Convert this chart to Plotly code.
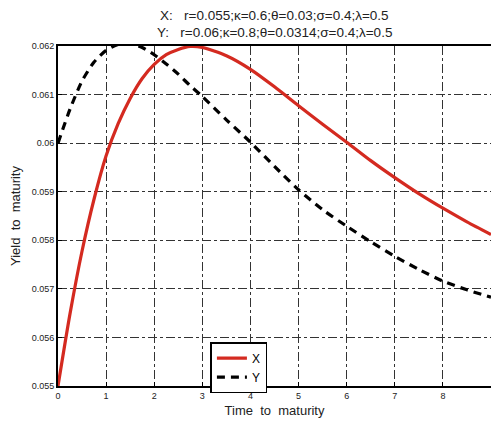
import plotly.graph_objects as go

# Time to maturity (years) and yields
t_x = [0.0, 0.25, 0.5, 0.75, 1.0, 1.25, 1.5, 1.75, 2.0, 2.25, 2.5, 2.75, 3.0, 3.5, 4.0,
       4.5, 5.0, 5.5, 6.0, 6.5, 7.0, 7.5, 8.0, 8.5, 9.0]
y_x = [0.0550, 0.05649, 0.05778, 0.05885, 0.05974, 0.0604, 0.06092, 0.06133, 0.06162,
       0.06182, 0.06193, 0.06199, 0.06197, 0.0618, 0.06152, 0.06116, 0.06077, 0.06039,
       0.06002, 0.05964, 0.05929, 0.05896, 0.05866, 0.05838, 0.05812]

t_y = [0.0, 0.25, 0.5, 0.75, 1.0, 1.25, 1.5, 1.75, 2.0, 2.25, 2.5, 2.75, 3.0, 3.5, 4.0,
       4.5, 5.0, 5.5, 6.0, 6.5, 7.0, 7.5, 8.0, 8.5, 9.0]
y_y = [0.0600, 0.0607, 0.06128, 0.06167, 0.06191, 0.06203, 0.06205, 0.06197, 0.06182,
       0.06163, 0.06142, 0.06118, 0.06096, 0.06048, 0.06002, 0.05952, 0.05904, 0.05863,
       0.05829, 0.05797, 0.05767, 0.0574, 0.05716, 0.05698, 0.05683]

x_ticks = [0, 1, 2, 3, 4, 5, 6, 7, 8, 9]
y_ticks = [0.055, 0.056, 0.057, 0.058, 0.059, 0.060, 0.061, 0.062]
y_ticklabels = ["0.055", "0.056", "0.057", "0.058", "0.059", "0.06", "0.061", "0.062"]

title_x = "X:\u00a0\u00a0\u00a0r=0.055;\u03ba=0.6;\u03b8=0.03;\u03c3=0.4;\u03bb=0.5"
title_y = "Y:\u00a0\u00a0\u00a0r=0.06;\u03ba=0.8;\u03b8=0.0314;\u03c3=0.4;\u03bb=0.5"

FONT = "Liberation Sans, Arial, sans-serif"

fig = go.Figure()
fig.add_trace(go.Scatter(x=t_x, y=y_x, mode="lines", name="X",
                         line=dict(color="#d42a20", width=3.2, shape="spline", smoothing=0.7)))
fig.add_trace(go.Scatter(x=t_y, y=y_y, mode="lines", name="Y",
                         line=dict(color="black", width=3.2, dash="8px,6px",
                                   shape="spline", smoothing=0.7)))

axis_common = dict(
    showgrid=True, gridcolor="#333333", gridwidth=1, griddash="dashdot",
    showline=True, linecolor="black", linewidth=2, mirror=True,
    ticks="inside", ticklen=4, tickcolor="black",
    tickfont=dict(family=FONT, size=9, color="#222222"),
    zeroline=False, automargin=False,
)

fig.update_xaxes(range=[0, 9], tickvals=x_ticks, **axis_common,
                 title=dict(text="Time\u00a0\u00a0to\u00a0\u00a0maturity",
                            font=dict(family=FONT, size=13, color="#222222"), standoff=6))
fig.update_yaxes(range=[0.055, 0.062], tickvals=y_ticks, ticktext=y_ticklabels, **axis_common,
                 title=dict(text="Yield\u00a0\u00a0to\u00a0\u00a0maturity",
                            font=dict(family=FONT, size=13, color="#222222"), standoff=8))

fig.update_layout(
    width=491, height=421,
    margin=dict(l=58, r=0, t=46, b=35),
    plot_bgcolor="white", paper_bgcolor="white",
    showlegend=True,
    legend=dict(x=0.352, y=0.129, xanchor="left", yanchor="top",
                bgcolor="white", bordercolor="black", borderwidth=1.5,
                font=dict(family=FONT, size=12, color="black"),
                itemwidth=30, tracegroupgap=0),
)

plot_h = 421 - 46 - 35
for text, ypix in zip([title_x, title_y], [15, 33]):
    fig.add_annotation(text=text, x=0.5, xref="paper", y=1 + (46 - ypix) / plot_h,
                       yref="paper", showarrow=False, xanchor="center", yanchor="middle",
                       font=dict(family=FONT, size=13.5, color="#222222"))

fig.write_html("out.html")
